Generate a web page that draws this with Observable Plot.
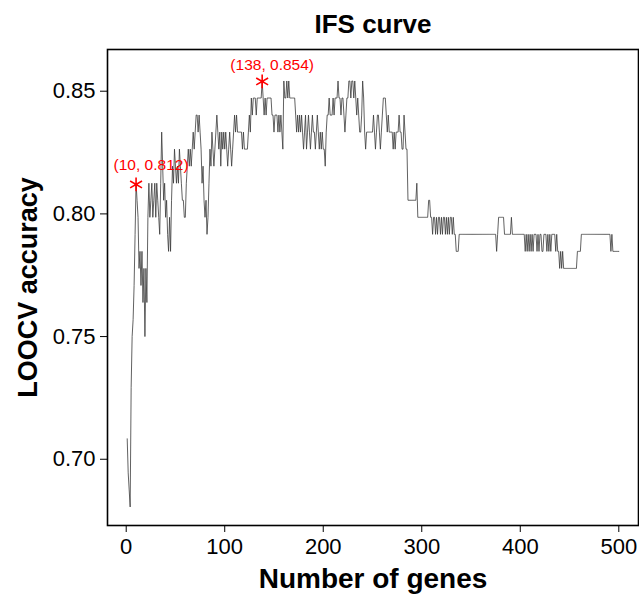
<!DOCTYPE html>
<html>
<head>
<meta charset="utf-8">
<script src="https://cdn.jsdelivr.net/npm/d3@7"></script>
<script src="https://cdn.jsdelivr.net/npm/@observablehq/plot@0.6"></script>
<style>
  html, body { margin: 0; padding: 0; background: #fff; }
  #chart svg { display: block; }
</style>
</head>
<body>
<div id="chart"></div>
<script>
// LOOCV with 144 samples: number of correctly classified samples for gene counts 1..500
const nSamples = 144;
const correctCounts = [
  102,100,99,98,105,108,109,111,114,117,
  116,115,112,113,111,113,110,112,108,112,
  110,115,117,115,116,117,115,116,117,115,
  117,116,115,114,117,120,118,116,117,115,
  116,114,113,115,113,116,118,117,119,118,
  117,118,117,119,118,117,116,116,115,115,
  117,118,119,118,119,118,119,120,119,120,
  121,121,120,121,120,119,117,118,116,115,
  116,114,115,117,119,118,120,119,118,119,
  120,121,120,119,120,118,120,119,120,119,
  120,119,118,119,120,119,118,119,120,121,
  120,121,120,120,120,120,120,119,120,119,
  119,119,119,120,121,120,122,121,122,122,
  122,121,122,122,122,122,122,123,122,121,
  122,121,122,122,122,122,122,121,121,120,
  121,121,121,120,121,120,121,120,119,123,
  122,122,123,122,123,122,122,122,122,122,
  122,121,120,121,120,121,120,121,120,119,
  120,121,119,120,121,120,119,120,121,120,
  120,119,120,121,120,119,120,119,120,119,
  119,118,120,121,121,122,121,121,121,122,
  121,122,122,122,123,122,122,121,122,122,
  121,120,121,122,122,123,123,122,123,123,
  122,123,122,121,122,121,120,120,121,123,
  122,120,119,120,120,120,120,120,120,120,
  121,120,119,120,121,121,120,119,120,121,
  122,122,122,121,120,121,120,120,120,120,
  119,120,119,120,120,120,121,120,120,119,
  119,121,120,119,119,116,116,116,116,116,
  116,116,116,116,117,115,115,115,115,115,
  115,115,115,115,115,115,116,116,115,115,
  114,115,115,114,115,114,115,115,114,115,
  114,115,115,114,115,114,115,114,115,115,
  114,115,114,114,113,113,113,114,114,114,
  114,114,114,114,114,114,114,114,114,114,
  114,114,114,114,114,114,114,114,114,114,
  114,114,114,114,114,114,114,114,114,114,
  114,114,114,114,114,113,114,115,115,115,
  115,115,115,114,114,114,114,114,114,114,
  115,114,114,114,114,114,114,114,114,114,
  114,114,114,114,113,114,113,114,113,114,
  113,114,113,114,114,114,113,114,113,114,
  114,113,113,114,114,114,113,114,113,114,
  113,114,114,114,114,113,114,113,113,112,
  113,112,113,112,112,112,112,112,112,112,
  112,112,112,112,112,112,112,113,113,113,
  113,114,114,114,114,114,114,114,114,114,
  114,114,114,114,114,114,114,114,114,114,
  114,114,114,114,114,114,114,114,114,114,
  114,113,114,113,113,113,113,113,113,113
];
const geneCounts = correctCounts.map((_, i) => i + 1);

// highlighted points
const markGenes = [10, 138];
const markAcc = [0.812, 0.854];

// axis ticks
const xTicks = [0, 100, 200, 300, 400, 500];
const yTicks = [0.70, 0.75, 0.80, 0.85];

const titleText = "IFS curve";
const xLabel = "Number of genes";
const yLabel = "LOOCV accuracy";

const curve = geneCounts.map((g, i) => ({genes: g, acc: correctCounts[i] / nSamples}));
const marks = markGenes.map((g, i) => ({genes: g, acc: markAcc[i], label: `(${g}, ${markAcc[i].toFixed(3)})`}));

const font = "'Liberation Sans', Arial, Helvetica, sans-serif";

const chart = Plot.plot({
  width: 639,
  height: 596,
  marginLeft: 107,
  marginRight: 1,
  marginTop: 49,
  marginBottom: 71,
  style: {fontFamily: font, background: "#fff", color: "#000"},
  x: {domain: [-19, 520]},
  y: {domain: [0.673, 0.867]},
  marks: [
    Plot.frame({stroke: "#000", strokeWidth: 1.6}),
    Plot.axisX({ticks: xTicks, tickSize: 7, tickPadding: 6, fontSize: 22, label: null, stroke: "#000"}),
    Plot.axisY({ticks: yTicks, tickSize: 7, tickPadding: 5, fontSize: 22, label: null, tickFormat: d3.format(".2f"), stroke: "#000"}),
    Plot.line(curve, {x: "genes", y: "acc", stroke: "#3a3a3a", strokeWidth: 0.8}),
    Plot.dot(marks, {x: "genes", y: "acc", symbol: "asterisk", r: 6.5, stroke: "#ff0000", strokeWidth: 1.6}),
    Plot.text([marks[0]], {x: "genes", y: "acc", text: "label", dx: 15, dy: -19, fill: "#ff0000", fontSize: 15.5}),
    Plot.text([marks[1]], {x: "genes", y: "acc", text: "label", dx: 10, dy: -16, fill: "#ff0000", fontSize: 15.5}),
    Plot.text([titleText], {frameAnchor: "top", lineAnchor: "middle", dy: -25, fontSize: 26, fontWeight: "bold", fill: "#000"}),
    Plot.text([xLabel], {frameAnchor: "bottom", lineAnchor: "middle", dy: 54, fontSize: 28, fontWeight: "bold", fill: "#000"}),
    Plot.text([yLabel], {frameAnchor: "left", textAnchor: "middle", lineAnchor: "middle", dx: -79, rotate: -90, fontSize: 27, fontWeight: "bold", fill: "#000"})
  ]
});
document.getElementById("chart").appendChild(chart);
</script>
</body>
</html>
